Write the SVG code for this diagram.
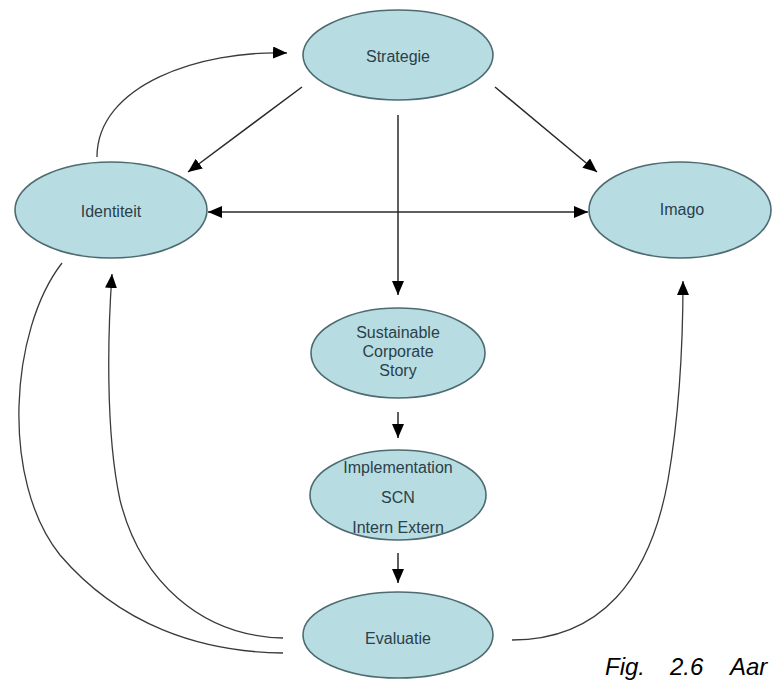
<svg xmlns="http://www.w3.org/2000/svg" width="772" height="688" viewBox="0 0 772 688">
  <style>
    .node ellipse { fill: #b7dde2; stroke: #4d6b70; stroke-width: 1.6; }
    .node text { font-family: "Liberation Sans", Arial, sans-serif; font-size: 16px; fill: #2b4049; text-anchor: middle; }
    .edge { fill: none; stroke: #2a2a2a; stroke-width: 1.5; }
    .curve { fill: none; stroke: #3a3a3a; stroke-width: 1.3; }
    .caption { font-family: "Liberation Sans", Arial, sans-serif; font-size: 24px; font-style: italic; fill: #000; }
  </style>
  <defs>
    <marker id="ah" markerUnits="userSpaceOnUse" markerWidth="15" markerHeight="12" refX="14" refY="6" orient="auto-start-reverse">
      <path d="M0,0 L14,6 L0,12 z" fill="#000"/>
    </marker>
  </defs>
  <rect width="772" height="688" fill="#fff"/>

  <g id="connectors">
    <line class="edge" x1="302" y1="87" x2="188" y2="172" marker-end="url(#ah)"/>
    <line class="edge" x1="495" y1="87" x2="597" y2="172" marker-end="url(#ah)"/>
    <line class="edge" x1="208" y1="212" x2="588" y2="212" marker-start="url(#ah)" marker-end="url(#ah)"/>
    <line class="edge" x1="398" y1="115" x2="398" y2="295" marker-end="url(#ah)"/>
    <line class="edge" x1="398" y1="412" x2="398" y2="438" marker-end="url(#ah)"/>
    <line class="edge" x1="398" y1="553" x2="398" y2="583" marker-end="url(#ah)"/>
    <path class="curve" d="M 97 157 C 97 85, 200 50, 287 53" marker-end="url(#ah)"/>
    <path class="curve" d="M 62 263 C 10 330, 0 480, 60 555 C 120 625, 200 652, 283 653"/>
    <path class="curve" d="M 283 638 C 200 636, 140 580, 120 500 C 105 430, 108 330, 112 274" marker-end="url(#ah)"/>
    <path class="curve" d="M 512 640 C 600 640, 650 580, 668 480 C 680 410, 683 330, 683 281" marker-end="url(#ah)"/>
  </g>

  <g id="strategie" class="node">
    <ellipse cx="398" cy="55" rx="95" ry="45"/>
    <text x="398" y="62">Strategie</text>
  </g>
  <g id="identiteit" class="node">
    <ellipse cx="111" cy="210" rx="96" ry="48"/>
    <text x="111" y="217">Identiteit</text>
  </g>
  <g id="imago" class="node">
    <ellipse cx="680" cy="210" rx="91" ry="48"/>
    <text x="682" y="215">Imago</text>
  </g>
  <g id="scs" class="node">
    <ellipse cx="398" cy="353" rx="87" ry="45"/>
    <text x="398" y="338">Sustainable</text>
    <text x="398" y="357">Corporate</text>
    <text x="398" y="376">Story</text>
  </g>
  <g id="implementation" class="node">
    <ellipse cx="398" cy="495" rx="88" ry="45"/>
    <text x="398" y="473">Implementation</text>
    <text x="398" y="503">SCN</text>
    <text x="398" y="533">Intern Extern</text>
  </g>
  <g id="evaluatie" class="node">
    <ellipse cx="398" cy="635" rx="95" ry="43"/>
    <text x="398" y="644">Evaluatie</text>
  </g>

  <text class="caption" y="675"><tspan x="605">Fig.</tspan><tspan x="670">2.6</tspan><tspan x="730">Aar</tspan></text>
</svg>
